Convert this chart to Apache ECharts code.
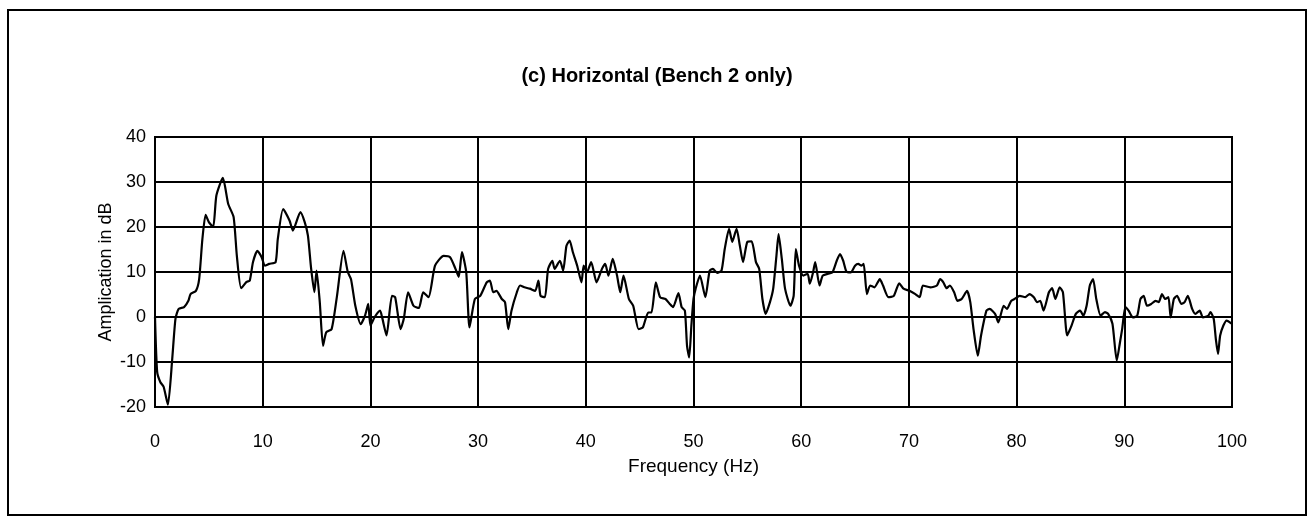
<!DOCTYPE html>
<html>
<head>
<meta charset="utf-8">
<script src="https://cdn.jsdelivr.net/npm/echarts@6/dist/echarts.min.js"></script>
<style>
  html, body { margin: 0; padding: 0; background: #fff; }
  #chart { width: 1314px; height: 527px; }
</style>
</head>
<body>
<div id="chart"></div>
<script>
// frequency (Hz) and amplification (dB)
const freq = [
  0, 0.2, 0.5, 0.8, 1.2, 1.6, 1.9, 2.2, 2.7, 3.1, 3.3, 3.8, 4.1, 4.4, 4.7, 5.0, 5.4, 5.7, 6.3, 6.8,
  7.3, 7.6, 8.0, 8.5, 8.8, 9.1, 9.5, 9.9, 10.2, 10.6, 11.2, 11.4, 11.9, 12.5, 12.8, 13.5, 13.9, 14.2, 14.5, 14.8,
  15.0, 15.3, 15.6, 15.9, 16.4, 16.9, 17.5, 17.9, 18.2, 18.6, 19.1, 19.5, 19.8, 20.0, 20.4, 20.9, 21.1, 21.5, 22.0, 22.3,
  22.8, 23.1, 23.5, 24.0, 24.5, 24.9, 25.4, 26.0, 26.8, 27.4, 27.9, 28.2, 28.5, 28.9, 29.2, 29.7, 30.2, 30.8, 31.1, 31.4,
  31.7, 32.2, 32.5, 32.8, 33.1, 33.6, 33.9, 34.3, 34.8, 35.3, 35.6, 35.8, 36.2, 36.5, 36.9, 37.1, 37.6, 37.9, 38.2, 38.5,
  38.8, 39.2, 39.6, 39.8, 40.1, 40.5, 41.0, 41.5, 41.8, 42.1, 42.5, 42.9, 43.2, 43.5, 44.0, 44.4, 44.9, 45.3, 45.8, 46.1,
  46.5, 46.9, 47.4, 47.8, 48.1, 48.6, 48.9, 49.2, 49.4, 49.6, 49.8, 50.0, 50.2, 50.6, 51.1, 51.5, 51.8, 52.2, 52.6, 52.9,
  53.3, 53.6, 54.0, 54.3, 54.6, 55.0, 55.4, 55.8, 56.1, 56.4, 56.7, 57.1, 57.4, 57.7, 57.9, 58.2, 58.5, 59.0, 59.3, 59.5,
  59.8, 60.2, 60.6, 60.8, 61.1, 61.3, 61.7, 62.0, 62.5, 62.9, 63.3, 63.6, 63.9, 64.2, 64.6, 65.0, 65.3, 65.6, 65.8, 66.1,
  66.4, 66.8, 67.3, 67.6, 68.1, 68.6, 69.1, 69.5, 70.1, 70.6, 71.0, 71.3, 72.0, 72.6, 72.9, 73.2, 73.5, 73.8, 74.2, 74.5,
  74.9, 75.4, 75.7, 76.0, 76.4, 76.7, 77.2, 77.5, 78.0, 78.3, 78.8, 79.1, 79.5, 79.8, 80.3, 80.8, 81.2, 81.6, 81.9, 82.2,
  82.5, 83.0, 83.3, 83.6, 84.0, 84.3, 84.7, 85.1, 85.5, 85.9, 86.2, 86.5, 86.8, 87.1, 87.4, 87.8, 88.2, 88.5, 88.9, 89.3,
  89.6, 89.8, 90.1, 90.4, 90.8, 91.2, 91.5, 91.8, 92.1, 92.5, 92.9, 93.2, 93.5, 93.8, 94.1, 94.3, 94.6, 94.9, 95.3, 95.6,
  95.9, 96.3, 96.6, 97.0, 97.3, 97.8, 98.0, 98.3, 98.5, 98.7, 98.9, 99.2, 99.5, 100
];
const amp = [
  0, -12.2, -14.5, -15.5, -19.5, -9.3, -0.4, 1.8, 2.2, 3.6, 5.1, 5.8, 8.4, 17.3, 22.7, 21.1, 20.0, 27, 30.9, 25.1,
  22.2, 13.6, 6.4, 7.8, 8.1, 12.2, 14.7, 13.3, 11.4, 11.8, 12.2, 17.3, 24, 21.4, 19.2, 23.3, 21.1, 18.1, 10.7, 5.5,
  10.3, 3.3, -6.4, -3.4, -2.7, 4.7, 14.7, 10, 8.4, 2.5, -1.6, 0.3, 2.9, -1.9, 0, 1.4, -0.2, -4.1, 4.7, 4.4,
  -2.7, -0.4, 5.5, 2.5, 2.0, 5.5, 4.4, 11.4, 13.6, 13.3, 10.7, 8.9, 14.4, 9.9, -2.3, 4.0, 4.7, 7.7, 8.1, 5.5,
  5.8, 4.0, 3.3, -2.7, 1.4, 5.5, 7.0, 6.6, 6.3, 5.8, 8.1, 4.7, 4.4, 10.7, 12.5, 10.7, 12.5, 10.3, 15.8, 17.0,
  14.4, 11.4, 7.7, 11.4, 9.9, 12.2, 7.7, 10.7, 11.8, 9.2, 12.9, 9.2, 5.5, 9.2, 4.0, 2.5, -2.7, -2.3, 1.0, 1.0,
  7.7, 4.4, 4.0, 2.9, 2.2, 5.3, 2.2, 1.4, -6.4, -9.0, -2, 4.0, 6.3, 9.2, 4.4, 10.3, 10.7, 9.8, 10.3, 15.1,
  19.6, 16.7, 19.6, 15.9, 12.2, 16.7, 16.8, 12.2, 10.7, 4.0, 0.7, 3.3, 6.3, 13.6, 18.4, 12.9, 6.3, 2.5, 4.7, 15.1,
  11.4, 9.2, 9.6, 7.4, 9.9, 12.2, 7.0, 9.2, 9.6, 9.9, 12.5, 14.0, 12.5, 10.1, 9.9, 11.4, 11.8, 11.4, 11.8, 5.1,
  7.0, 6.6, 8.4, 7.0, 4.4, 4.7, 7.5, 6.3, 5.8, 5.1, 4.4, 7.0, 6.6, 7.0, 8.4, 7.7, 6.4, 7.0, 5.5, 3.6,
  4.0, 5.8, 3.3, -2.7, -8.6, -4.1, 1.4, 1.8, 0.7, -1.2, 2.5, 1.8, 3.6, 4.0, 4.7, 4.4, 5.1, 4.4, 3.3, 3.6,
  1.4, 5.5, 6.4, 4.0, 6.6, 5.5, -4.1, -1.9, 0.7, 1.4, 0.3, 2.5, 7.0, 8.4, 4.0, 0.3, 1.1, 0.7, -1.5, -9.7,
  -5.6, -2.7, 2.2, 1.4, -0.1, 0.3, 4.0, 4.7, 2.5, 2.9, 3.6, 3.3, 5.1, 4.0, 4.4, -0.1, 4.0, 4.7, 2.9, 3.3,
  4.7, 1.8, 0.7, 1.4, -0.1, 0.3, 1.1, -0.4, -4.9, -8.2, -4.1, -1.9, -0.8, -1.5
];

const chart = echarts.init(document.getElementById('chart'));
const font = 'Liberation Sans, Arial, sans-serif';

chart.setOption({
  backgroundColor: '#fff',
  animation: false,
  title: {
    text: '(c) Horizontal (Bench 2 only)',
    left: 'center',
    top: 61,
    textStyle: { fontFamily: font, fontSize: 20, fontWeight: 'bold', color: '#000' }
  },
  graphic: [{
    type: 'rect',
    shape: { x: 8, y: 10, width: 1298, height: 505 },
    style: { fill: 'none', stroke: '#000', lineWidth: 2 }
  }],
  grid: {
    left: 155, right: 82, top: 137, bottom: 120,
    show: true, borderColor: '#000', borderWidth: 2
  },
  xAxis: {
    type: 'value',
    min: 0, max: 100, interval: 10,
    name: 'Frequency (Hz)',
    nameLocation: 'middle',
    nameGap: 50,
    nameMoveOverlap: false,
    nameTextStyle: { fontFamily: font, fontSize: 19, color: '#000' },
    axisLine: { show: true, lineStyle: { color: '#000', width: 2 } },
    axisTick: { show: false },
    axisLabel: { margin: 26, fontFamily: font, fontSize: 18, color: '#000' },
    splitLine: { show: true, lineStyle: { color: '#000', width: 2 } }
  },
  yAxis: {
    type: 'value',
    min: -20, max: 40, interval: 10,
    name: 'Amplication in dB',
    nameLocation: 'middle',
    nameGap: 40,
    nameMoveOverlap: false,
    nameTextStyle: { fontFamily: font, fontSize: 18, color: '#000' },
    axisLine: { show: true, lineStyle: { color: '#000', width: 2 } },
    axisTick: { show: false },
    axisLabel: { margin: 9, fontFamily: font, fontSize: 18, color: '#000' },
    splitLine: { show: true, lineStyle: { color: '#000', width: 2 } }
  },
  series: [{
    type: 'line',
    data: freq.map((f, i) => [f, amp[i]]),
    showSymbol: false,
    smooth: 0.2,
    lineStyle: { color: '#000', width: 2.2 }
  }]
});
</script>
</body>
</html>
